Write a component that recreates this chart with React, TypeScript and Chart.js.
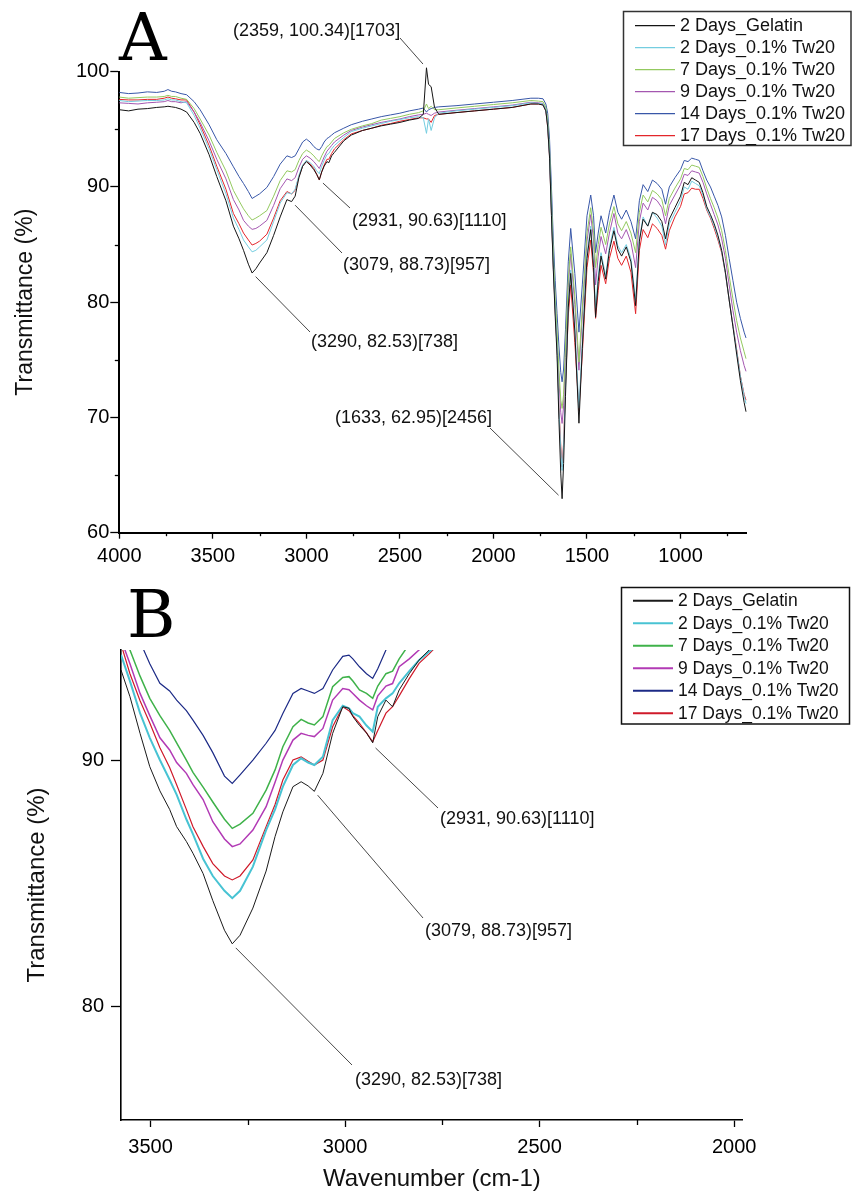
import React, { useEffect, useRef } from "react";
import { Chart, registerables } from "chart.js";

Chart.register(...registerables);

const SANS = '"Liberation Sans", Arial, Helvetica, sans-serif';
const SERIF = '"DejaVu Serif", "Liberation Serif", serif';

const seriesLabels = [
  "2 Days_Gelatin",
  "2 Days_0.1% Tw20",
  "7 Days_0.1% Tw20",
  "9 Days_0.1% Tw20",
  "14 Days_0.1% Tw20",
  "17 Days_0.1% Tw20",
];

// ---------- Panel A: full spectrum ----------
const wavenumbersA = [
  4000, 3950, 3900, 3850, 3800, 3760, 3740, 3720, 3700, 3670,
  3640, 3600, 3568, 3520, 3479, 3430, 3390, 3360, 3336, 3310,
  3290, 3270, 3250, 3211, 3175, 3140, 3104, 3079, 3060, 3040,
  3020, 3000, 2980, 2960, 2945, 2931, 2918, 2905, 2890, 2880,
  2865, 2850, 2800, 2760, 2700, 2650, 2600, 2550, 2500, 2450,
  2400, 2375, 2358, 2347, 2333, 2315, 2292, 2200, 2100, 2000,
  1900, 1800, 1760, 1735, 1720, 1710, 1700, 1690, 1680, 1670,
  1660, 1650, 1640, 1633, 1625, 1615, 1600, 1587, 1565, 1543,
  1525, 1500, 1480, 1465, 1454, 1440, 1425, 1400, 1380, 1356,
  1335, 1315, 1290, 1265, 1240, 1220, 1200, 1175, 1150, 1125,
  1100, 1080, 1060, 1030, 1000, 980, 960, 940, 920, 900,
  880, 860, 840, 820, 800, 780, 760, 740, 720, 700,
  680, 660, 650,
];
const gelatin2dA = [
  96.7, 96.6, 96.75, 96.8, 96.9, 96.95, 97.0, 96.95, 96.9, 96.75,
  96.5, 95.6, 94.65, 92.8, 90.9, 88.8, 86.6, 85.5, 84.5, 83.3,
  82.53, 82.9, 83.4, 84.3, 85.8, 87.4, 88.9, 88.73, 89.2, 90.8,
  91.8, 92.2, 91.9, 91.5, 91.1, 90.63, 91.3, 91.8, 92.2, 92.1,
  92.7, 93.0, 94.0, 94.5, 94.9, 95.1, 95.3, 95.45, 95.6, 95.8,
  95.95, 96.3, 100.34, 98.9, 98.7, 96.9, 96.3, 96.45, 96.6, 96.75,
  96.9, 97.2, 97.2, 97.1, 96.6, 95.2, 92.5, 87.5, 82.8, 78.8,
  75.4, 69.8, 65.1, 62.95, 66.0, 71.8, 79.5, 82.5, 77.5, 69.5,
  76.0, 83.8, 86.3, 83.0, 78.7, 81.8, 84.0, 82.0, 84.5, 86.2,
  84.6, 84.0, 84.8, 83.5, 79.7, 85.3, 87.2, 86.6, 87.8, 87.6,
  87.0, 85.5, 87.2, 88.2, 89.2, 90.4, 90.2, 90.8, 90.6, 90.4,
  89.5, 88.3, 87.6, 86.8, 85.8, 84.5, 82.6, 80.2, 77.9, 75.5,
  73.2, 71.3, 70.5,
];
const tw2dA = [
  97.5, 97.4, 97.45, 97.5, 97.5, 97.55, 97.65, 97.55, 97.55, 97.4,
  97.3, 96.2, 95.1, 93.3, 91.5, 89.4, 87.3, 86.3, 85.4, 84.8,
  84.37, 84.5, 84.8, 85.4, 87.0, 88.6, 89.5, 89.4, 89.8, 91.0,
  91.9, 92.3, 92.1, 91.8, 91.4, 91.15, 91.8, 92.3, 92.8, 92.9,
  93.3, 93.6, 94.3, 94.8, 95.1, 95.3, 95.5, 95.7, 95.85, 96.0,
  96.1, 96.0, 94.65, 95.9, 94.9, 96.0, 96.4, 96.6, 96.75, 96.9,
  97.05, 97.3, 97.25, 97.2, 96.7, 95.4, 92.7, 87.8, 83.1, 79.4,
  76.0, 70.7, 67.2, 65.4, 67.5, 72.5, 79.8, 82.8, 77.8, 70.8,
  76.5, 84.2, 86.6, 83.5, 79.5, 82.3, 84.3, 82.3, 84.8, 86.5,
  84.9, 84.3, 85.0, 83.8, 80.2, 85.5, 87.4, 86.6, 87.8, 87.3,
  86.6, 85.0, 86.8, 87.8, 88.8, 90.0, 89.8, 90.5, 90.3, 90.1,
  89.3, 88.1, 87.4, 86.6, 85.6, 84.4, 82.5, 80.2, 78.0, 75.8,
  73.6, 71.9, 71.2,
];
const tw7dA = [
  97.8, 97.7, 97.75, 97.8, 97.8, 97.85, 97.95, 97.85, 97.85, 97.7,
  97.6, 96.8, 95.9, 94.5, 93.0, 91.4, 89.7, 88.8, 88.1, 87.5,
  87.13, 87.3, 87.5, 87.95, 89.2, 90.55, 91.4, 91.3, 91.5, 92.3,
  92.9, 93.2, 93.0, 92.7, 92.4, 92.2, 92.7, 93.1, 93.5, 93.6,
  93.9, 94.2, 94.7, 95.0, 95.3, 95.5, 95.8, 95.95, 96.1, 96.3,
  96.45, 96.6, 97.2, 96.8, 97.0, 96.7, 96.7, 96.85, 97.0, 97.15,
  97.3, 97.5, 97.45, 97.4, 96.9, 95.8, 93.2, 88.8, 84.2, 80.5,
  77.5, 74.1, 71.5, 70.78, 72.0, 76.2, 82.0, 84.8, 80.5, 74.8,
  79.5, 86.0, 88.2, 86.2, 83.0, 85.0, 86.5, 85.0, 86.8, 88.3,
  86.8, 86.2, 87.0, 86.0, 84.3, 87.8, 89.3, 88.7, 89.7, 89.4,
  88.9, 87.5, 89.0, 89.9, 90.7, 91.6, 91.5, 91.9, 91.8, 91.7,
  90.9, 89.9, 89.0, 88.2, 87.3, 86.2, 84.5, 82.3, 80.3, 78.4,
  76.9, 75.7, 75.1,
];
const tw9dA = [
  97.3, 97.25, 97.2, 97.3, 97.35, 97.4, 97.5, 97.4, 97.4, 97.3,
  97.4, 96.5, 95.6, 94.0, 92.4, 90.7, 88.9, 88.0, 87.1, 86.6,
  86.32, 86.4, 86.6, 87.1, 88.4, 89.85, 90.7, 90.55, 90.8, 91.7,
  92.4, 92.7, 92.5, 92.2, 91.9, 91.6, 92.1, 92.6, 93.1, 93.3,
  93.6, 93.9, 94.5, 94.9, 95.2, 95.4, 95.6, 95.75, 95.9, 96.1,
  96.25, 96.3, 96.4, 96.3, 96.2, 96.4, 96.5, 96.65, 96.8, 96.95,
  97.1, 97.35, 97.3, 97.25, 96.7, 95.5, 92.8, 88.2, 83.5, 79.8,
  76.8, 73.3, 70.4, 69.48, 71.0, 75.2, 81.3, 84.2, 79.8, 74.1,
  78.8, 85.3, 87.6, 85.4, 81.5, 84.0, 85.7, 84.2, 86.0, 87.7,
  86.0, 85.5, 86.3, 85.2, 83.0, 87.0, 88.6, 88.0, 89.1, 88.8,
  88.2, 86.8, 88.4, 89.3, 90.2, 91.1, 91.0, 91.4, 91.3, 91.2,
  90.4, 89.4, 88.5, 87.6, 86.7, 85.5, 83.8, 81.5, 79.3, 77.4,
  75.8, 74.5, 74.0,
];
const tw14dA = [
  98.2, 98.1, 98.15, 98.25, 98.2, 98.3, 98.45, 98.3, 98.25, 98.1,
  98.0, 97.4, 96.7, 95.4, 94.1, 92.9, 91.75, 90.9, 90.3, 89.6,
  89.0, 89.2, 89.4, 89.96, 90.9, 91.98, 92.7, 92.55, 92.7, 93.3,
  93.9, 94.15, 93.9, 93.5, 93.3, 93.2, 93.5, 93.9, 94.2, 94.3,
  94.5, 94.7, 95.1, 95.4, 95.7, 95.9, 96.1, 96.25, 96.4, 96.6,
  96.75, 96.85, 96.5, 96.7, 96.8, 96.9, 96.95, 97.05, 97.2, 97.35,
  97.5, 97.7, 97.7, 97.65, 97.2, 96.4, 94.1, 90.0, 85.4, 81.9,
  79.0, 76.2, 73.9, 73.09, 74.2, 77.6, 83.5, 86.4, 82.5, 77.4,
  81.5, 87.5, 89.3, 87.5, 84.3, 86.0, 87.5, 86.0, 87.8, 89.3,
  87.8, 87.2, 88.0, 87.0, 85.5, 88.8, 90.2, 89.6, 90.6, 90.3,
  89.8, 88.5, 90.0, 90.8, 91.5, 92.3, 92.2, 92.5, 92.4, 92.3,
  91.4, 90.6, 90.0, 89.2, 88.4, 87.4, 85.8, 83.8, 81.9, 80.0,
  78.6, 77.4, 76.9,
];
const tw17dA = [
  97.6, 97.55, 97.55, 97.6, 97.6, 97.7, 97.8, 97.7, 97.65, 97.55,
  97.55, 96.5, 95.4, 93.6, 91.8, 89.8, 87.7, 86.8, 86.0, 85.4,
  84.96, 85.1, 85.3, 85.9, 87.3, 88.8, 89.6, 89.4, 89.7, 90.9,
  91.8, 92.3, 92.0, 91.6, 91.1, 90.6, 91.3, 91.9, 92.4, 92.4,
  92.9, 93.3, 94.1, 94.6, 94.9, 95.1, 95.35, 95.5, 95.7, 95.85,
  96.0, 96.0, 95.9, 95.9, 95.6, 96.2, 96.3, 96.45, 96.6, 96.75,
  96.9, 97.2, 97.2, 97.15, 96.6, 95.2, 92.6, 87.7, 83.0, 79.3,
  76.0, 70.9, 67.5, 65.71, 67.8, 72.7, 78.8, 81.5, 76.5, 70.6,
  75.5, 83.0, 85.4, 82.5, 78.6, 81.0, 83.2, 81.6, 83.8, 85.3,
  83.8, 83.2, 84.0, 82.6, 79.0, 84.5, 86.3, 85.6, 86.8, 86.4,
  85.8, 84.6, 86.2, 87.4, 88.3, 89.4, 89.5, 89.9, 89.8, 89.8,
  89.0, 88.0, 87.3, 86.4, 85.4, 84.3, 82.5, 80.2, 78.0, 75.9,
  73.6, 72.0, 71.5,
];

// ---------- Panel B: zoom 3576-1978 cm-1 ----------
const wavenumbersB = [
  3576, 3553, 3527, 3502, 3476, 3451, 3433, 3408, 3391, 3365,
  3340, 3310, 3290, 3270, 3237, 3203, 3180, 3160, 3134, 3113,
  3095, 3079, 3057, 3032, 3006, 2990, 2980, 2963, 2945, 2929,
  2916, 2895, 2878, 2861, 2835, 2810, 2784, 2760,
];
const gelatin2dB = [
  93.65, 92.57, 91.08, 89.73, 88.75, 88.0, 87.3, 86.7, 86.22, 85.4,
  84.3, 83.1, 82.55, 82.9, 84.0, 85.5, 86.9, 87.9, 88.92, 89.12,
  88.95, 88.73, 89.46, 91.08, 92.16, 92.1, 91.76, 91.4, 91.1, 90.7,
  91.76, 92.43, 92.16, 92.84, 93.5, 94.05, 94.46, 94.9,
];
const tw2dB = [
  94.26, 93.2, 91.9, 90.9, 90.0, 89.2, 88.6, 87.6, 87.0, 86.0,
  85.3, 84.7, 84.4, 84.7, 85.68, 87.16, 88.0, 88.92, 89.8, 90.07,
  89.9, 89.8, 90.13, 91.62, 92.2, 92.1, 91.9, 91.76, 91.4, 91.15,
  92.16, 92.5, 92.7, 93.11, 93.6, 94.05, 94.4, 94.7,
];
const tw7dB = [
  95.4, 94.46, 93.4, 92.5, 91.8, 91.2, 90.7, 90.0, 89.5, 88.9,
  88.3, 87.6, 87.23, 87.4, 87.84, 88.78, 89.6, 90.54, 91.35, 91.65,
  91.5, 91.42, 91.76, 92.97, 93.35, 93.38, 93.2, 92.84, 92.7, 92.5,
  93.0, 93.5, 93.6, 94.1, 94.7, 95.0, 95.2, 95.4,
];
const tw9dB = [
  94.9, 93.9, 92.7, 91.8, 90.9, 90.41, 89.9, 89.46, 89.0, 88.4,
  87.5, 86.8, 86.49, 86.6, 87.16, 88.11, 89.1, 90.0, 90.81, 91.08,
  91.0, 90.95, 91.28, 92.43, 92.9, 92.85, 92.7, 92.43, 92.2, 92.03,
  92.6, 93.0, 93.1, 93.78, 94.1, 94.46, 94.8, 95.1,
];
const tw14dB = [
  96.6, 95.7, 94.8, 93.9, 93.11, 92.8, 92.43, 92.0, 91.62, 91.0,
  90.3, 89.35, 89.05, 89.4, 90.0, 90.68, 91.2, 91.89, 92.7, 92.9,
  92.8, 92.7, 92.9, 93.65, 94.2, 94.25, 94.1, 93.78, 93.5, 93.31,
  93.7, 94.46, 94.9, 95.3, 95.5, 95.7, 95.8, 95.9,
];
const tw17dB = [
  94.7, 93.5, 92.4, 91.5, 90.5, 89.7, 89.0, 88.0, 87.3, 86.5,
  85.8, 85.3, 85.14, 85.3, 85.95, 87.3, 88.2, 89.19, 90.0, 90.13,
  89.95, 89.8, 90.0, 91.35, 92.16, 92.0, 91.8, 91.49, 91.1, 90.74,
  91.2, 91.9, 92.16, 92.6, 93.3, 93.92, 94.3, 94.7,
];

// ---------- Axes ----------
const ticksXA = [4000, 3500, 3000, 2500, 2000, 1500, 1000];
const minorXA = [3750, 3250, 2750, 2250, 1750, 1250, 750];
const ticksYA = [60, 70, 80, 90, 100];
const minorYA = [65, 75, 85, 95];
const ticksXB = [3500, 3000, 2500, 2000];
const minorXB = [3250, 2750, 2250];
const ticksYB = [80, 90];

// ---------- Peak annotations ----------
const peakWnA = [2359, 2931, 3079, 3290, 1633];
const peakTA = [100.34, 90.63, 88.73, 82.53, 62.95];
const peakIdxA = [1703, 1110, 957, 738, 2456];
const peakWnB = [2931, 3079, 3290];
const peakTB = [90.63, 88.73, 82.53];
const peakIdxB = [1110, 957, 738];

const colorsA = ["#141414", "#74cde0", "#93c95f", "#a457b0", "#3857a8", "#e3262b"];
const widthsA = [1, 1, 1, 1, 1, 1];
const colorsB = ["#1a1a1a", "#48c3d3", "#3fb24a", "#b23ab5", "#1c2a86", "#cf1a2a"];
const widthsB = [1, 2, 1.5, 1.5, 1.2, 1.2];

function makeDatasets(wn: number[], series: number[][], colors: string[], widths: number[], clip: any) {
  return series.map((vals, i) => ({
    label: seriesLabels[i],
    data: wn.map((x, j) => ({ x, y: vals[j] })),
    borderColor: colors[i],
    backgroundColor: colors[i],
    borderWidth: widths[i],
    pointRadius: 0,
    tension: 0,
    fill: false,
    clip,
  }));
}

type Note = { tx: number; ty: number; lx: number; ly: number };

function decorPlugin(cfg: any) {
  return {
    id: "decor",
    afterDraw(chart: any) {
      const ctx = chart.ctx;
      const xs = chart.scales.x;
      const ys = chart.scales.y;
      ctx.save();
      // minor ticks
      ctx.strokeStyle = "#000";
      ctx.lineWidth = cfg.minorWidth;
      cfg.minorX.forEach((v: number) => {
        const px = Math.round(xs.getPixelForValue(v)) + 0.5;
        ctx.beginPath();
        ctx.moveTo(px, xs.top);
        ctx.lineTo(px, xs.top + cfg.minorLenX);
        ctx.stroke();
      });
      cfg.minorY.forEach((v: number) => {
        const py = Math.round(ys.getPixelForValue(v)) + 0.5;
        ctx.beginPath();
        ctx.moveTo(ys.right, py);
        ctx.lineTo(ys.right - cfg.minorLenY, py);
        ctx.stroke();
      });
      // annotations
      ctx.lineWidth = 0.9;
      ctx.strokeStyle = "#333";
      ctx.fillStyle = "#111";
      ctx.font = cfg.noteFont;
      ctx.textBaseline = "middle";
      ctx.textAlign = "left";
      cfg.peakWn.forEach((wn: number, i: number) => {
        const n: Note = cfg.notes[i];
        const ax = xs.getPixelForValue(wn);
        const ay = ys.getPixelForValue(cfg.peakT[i]);
        const dx = ax - n.lx;
        const dy = ay - n.ly;
        const len = Math.hypot(dx, dy);
        const gap = 5;
        ctx.beginPath();
        ctx.moveTo(n.lx, n.ly);
        ctx.lineTo(ax - (dx / len) * gap, ay - (dy / len) * gap);
        ctx.stroke();
        const text = `(${wn}, ${cfg.peakT[i].toFixed(2)})[${cfg.peakIdx[i]}]`;
        ctx.fillText(text, n.tx, n.ty);
      });
      // legend
      const lg = cfg.legend;
      ctx.fillStyle = "#fff";
      ctx.fillRect(lg.x0, lg.y0, lg.x1 - lg.x0, lg.y1 - lg.y0);
      ctx.strokeStyle = lg.border;
      ctx.lineWidth = 1.5;
      ctx.strokeRect(lg.x0, lg.y0, lg.x1 - lg.x0, lg.y1 - lg.y0);
      ctx.font = lg.font;
      chart.data.datasets.forEach((ds: any, i: number) => {
        const y = lg.firstY + i * lg.step;
        ctx.strokeStyle = ds.borderColor;
        ctx.lineWidth = lg.lineWidth;
        ctx.beginPath();
        ctx.moveTo(lg.lineX0, y);
        ctx.lineTo(lg.lineX1, y);
        ctx.stroke();
        ctx.fillStyle = "#111";
        ctx.fillText(ds.label, lg.textX, y + 0.5);
      });
      // panel letter
      ctx.font = cfg.letterFont;
      ctx.fillStyle = "#000";
      ctx.textBaseline = "alphabetic";
      ctx.fillText(cfg.letter, cfg.letterX, cfg.letterY);
      ctx.restore();
    },
  };
}

function buildChart(canvas: HTMLCanvasElement, p: any) {
  return new Chart(canvas, {
    type: "line",
    data: { datasets: p.datasets },
    options: {
      animation: false,
      responsive: false,
      devicePixelRatio: 1,
      events: [],
      layout: { padding: p.padding, autoPadding: false },
      plugins: { legend: { display: false }, tooltip: { enabled: false }, title: { display: false } },
      scales: {
        x: {
          type: "linear",
          reverse: true,
          min: p.xMin,
          max: p.xMax,
          afterFit: (s: any) => {
            s.height = p.xAxisHeight;
          },
          afterBuildTicks: (s: any) => {
            s.ticks = p.xTicks.map((v: number) => ({ value: v }));
          },
          grid: { drawOnChartArea: false, drawTicks: true, tickLength: p.xTickLen, color: "#000", tickWidth: 1.3 },
          border: { display: true, color: "#000", width: p.axisWidth },
          ticks: {
            color: "#000",
            font: { family: SANS, size: p.tickFont },
            padding: p.xTickPad,
            maxRotation: 0,
            autoSkip: false,
            callback: (v: any) => String(v),
          },
          title: p.xTitle
            ? { display: true, text: p.xTitle, color: "#111", font: { family: SANS, size: p.xTitleSize }, padding: { top: 0, bottom: p.xTitlePad } }
            : { display: false },
        },
        y: {
          type: "linear",
          min: p.yMin,
          max: p.yMax,
          afterFit: (s: any) => {
            s.width = p.yAxisWidth;
          },
          afterBuildTicks: (s: any) => {
            s.ticks = p.yTicks.map((v: number) => ({ value: v }));
          },
          grid: { drawOnChartArea: false, drawTicks: true, tickLength: p.yTickLen, color: "#000", tickWidth: 1.3 },
          border: { display: true, color: "#000", width: p.axisWidth },
          ticks: {
            color: "#000",
            font: { family: SANS, size: p.tickFont },
            padding: p.yTickPad,
            autoSkip: false,
            callback: (v: any) => String(v),
          },
          title: {
            display: true,
            text: "Transmittance (%)",
            color: "#111",
            font: { family: SANS, size: p.yTitleSize },
            padding: { top: p.yTitlePad, bottom: 0 },
          },
        },
      },
    },
    plugins: [decorPlugin(p.decor)],
  } as any);
}

export default function App() {
  const refA = useRef<HTMLCanvasElement>(null);
  const refB = useRef<HTMLCanvasElement>(null);

  useEffect(() => {
    const chartA = buildChart(refA.current!, {
      datasets: makeDatasets(
        wavenumbersA,
        [gelatin2dA, tw2dA, tw7dA, tw9dA, tw14dA, tw17dA],
        colorsA,
        widthsA,
        { left: 2, top: 10, right: 2, bottom: 2 }
      ),
      padding: { left: 0, top: 71.7, right: 106, bottom: 0 },
      xMin: 650,
      xMax: 4000,
      yMin: 60,
      yMax: 100,
      xTicks: ticksXA,
      yTicks: ticksYA,
      xAxisHeight: 47.3,
      yAxisWidth: 119.3,
      xTickLen: 6,
      yTickLen: 9,
      axisWidth: 2,
      tickFont: 20,
      xTickPad: 6,
      yTickPad: 1,
      yTitleSize: 23,
      yTitlePad: 12,
      decor: {
        minorX: minorXA,
        minorY: minorYA,
        minorLenX: 3.5,
        minorLenY: 4.5,
        minorWidth: 1.3,
        noteFont: `18px ${SANS}`,
        peakWn: peakWnA,
        peakT: peakTA,
        peakIdx: peakIdxA,
        notes: [
          { tx: 233, ty: 31, lx: 400, ly: 38 },
          { tx: 352, ty: 221, lx: 350, ly: 208 },
          { tx: 343, ty: 265, lx: 342, ly: 253 },
          { tx: 311, ty: 342, lx: 310, ly: 332 },
          { tx: 335, ty: 418, lx: 490, ly: 428 },
        ],
        legend: {
          x0: 623.5, y0: 11.5, x1: 851, y1: 145.5,
          border: "#333",
          font: `18px ${SANS}`,
          firstY: 25.7, step: 22,
          lineX0: 635, lineX1: 675, textX: 680, lineWidth: 1.2,
        },
        letter: "A",
        letterFont: `66px ${SERIF}`,
        letterX: 119,
        letterY: 60,
      },
    });

    const chartB = buildChart(refB.current!, {
      datasets: makeDatasets(
        wavenumbersB,
        [gelatin2dB, tw2dB, tw7dB, tw9dB, tw14dB, tw17dB],
        colorsB,
        widthsB,
        undefined
      ),
      padding: { left: 0, top: 70, right: 109.3, bottom: 0 },
      xMin: 1978,
      xMax: 3576,
      yMin: 75.41,
      yMax: 94.46,
      xTicks: ticksXB,
      yTicks: ticksYB,
      xAxisHeight: 80,
      yAxisWidth: 121,
      xTickLen: 7,
      yTickLen: 10,
      axisWidth: 1.6,
      tickFont: 20,
      xTickPad: 8,
      yTickPad: 7,
      xTitle: "Wavenumber (cm-1)",
      xTitleSize: 24,
      xTitlePad: 6,
      yTitleSize: 24,
      yTitlePad: 23,
      decor: {
        minorX: minorXB,
        minorY: [],
        minorLenX: 5,
        minorLenY: 0,
        minorWidth: 1.3,
        noteFont: `18px ${SANS}`,
        peakWn: peakWnB,
        peakT: peakTB,
        peakIdx: peakIdxB,
        notes: [
          { tx: 440, ty: 239, lx: 438, ly: 228 },
          { tx: 425, ty: 351, lx: 423, ly: 338 },
          { tx: 355, ty: 500, lx: 352, ly: 485 },
        ],
        legend: {
          x0: 621.5, y0: 7.5, x1: 849.5, y1: 144,
          border: "#111",
          font: `17.5px ${SANS}`,
          firstY: 20.7, step: 22.5,
          lineX0: 633, lineX1: 673, textX: 678, lineWidth: 2,
        },
        letter: "B",
        letterFont: `66px ${SERIF}`,
        letterX: 127,
        letterY: 57,
      },
    });

    return () => {
      chartA.destroy();
      chartB.destroy();
    };
  }, []);

  return (
    <div style={{ position: "absolute", left: 0, top: 0, width: 852, height: 1200, background: "#fff" }}>
      <canvas ref={refA} width={852} height={580} style={{ position: "absolute", left: 0, top: 0 }} />
      <canvas ref={refB} width={852} height={620} style={{ position: "absolute", left: 0, top: 580 }} />
    </div>
  );
}
